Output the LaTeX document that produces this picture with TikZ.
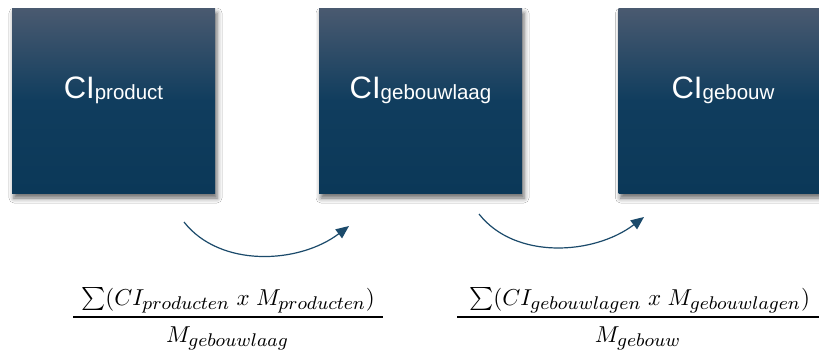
\documentclass[tikz,border=0pt]{standalone}
\usepackage{graphicx}
\usepackage{fontspec}
\setmainfont{Liberation Sans}
\DeclareMathSizes{10}{10}{8}{6}
\usetikzlibrary{arrows.meta,shadows.blur}
\definecolor{boxtop}{RGB}{74,90,112}
\definecolor{boxmid}{RGB}{16,61,94}
\definecolor{boxbot}{RGB}{11,56,88}
\definecolor{arrowcol}{RGB}{27,74,107}
\tikzset{
  box/.style={rectangle, draw=none, minimum width=203pt, minimum height=185pt, inner sep=0pt,
    top color=boxtop, bottom color=boxbot, middle color=boxmid,
    blur shadow={shadow xshift=2pt, shadow yshift=-5pt, shadow blur radius=5pt, shadow opacity=60}},
  lbl/.style={text=white, inner sep=0pt, anchor=base, font=\fontsize{31}{36}\selectfont},
  flow/.style={draw=arrowcol, line width=1.2pt, -{Triangle[length=13pt,width=11pt]}},
  formula/.style={inner sep=0pt, anchor=base},
  bar/.style={line width=1.6pt, black}
}
\newcommand{\subtxt}[1]{\raisebox{-1.2pt}{\fontsize{20.5}{24}\selectfont #1}}
\newcommand{\fm}[1]{\scalebox{2.3}{$#1$}}
\begin{document}
\begin{tikzpicture}[x=1pt,y=-1pt]
\useasboundingbox (0,0) rectangle (819,356);
\clip (0,0) rectangle (819,356);
\fill[white] (0,0) rectangle (819,356);
\node[box] (b1) at (113.5,100.5) {};
\node[box] (b2) at (420.5,100.5) {};
\node[box] (b3) at (720,100.5) {};
\node[lbl] (t1) at ([yshift=2.5pt]b1.center) {CI\subtxt{product}};
\node[lbl] (t2) at ([yshift=2.5pt]b2.center) {CI\subtxt{gebouwlaag}};
\node[lbl] (t3) at ([xshift=3pt,yshift=2.5pt]b3.center) {CI\subtxt{gebouw}};
\coordinate (a1s) at (184,222);
\coordinate (a1e) at (349,226);
\coordinate (a2s) at (479,214);
\coordinate (a2e) at (644,217);
\draw[flow] (a1s) .. controls ([xshift=36pt,yshift=-46pt]a1s) and ([xshift=-50pt,yshift=-38pt]a1e) .. (a1e);
\draw[flow] (a2s) .. controls ([xshift=36pt,yshift=-46pt]a2s) and ([xshift=-50pt,yshift=-38pt]a2e) .. (a2e);
\node[formula] (n1) at (228,305) {\fm{\sum(CI_{producten}\;x\;M_{producten})}};
\node[formula] (d1) at (227.5,342) {\fm{M_{gebouwlaag}}};
\node[formula] (n2) at (639.5,305) {\fm{\sum(CI_{gebouwlagen}\;x\;M_{gebouwlagen})}};
\node[formula] (d2) at (638,342) {\fm{M_{gebouw}}};
\coordinate (f1l) at (73,317);
\coordinate (f1r) at (383,317);
\coordinate (f2l) at (457,317);
\coordinate (f2r) at (822,317);
\draw[bar] (f1l) -- (f1r);
\draw[bar] (f2l) -- (f2r);
\end{tikzpicture}
\end{document}
